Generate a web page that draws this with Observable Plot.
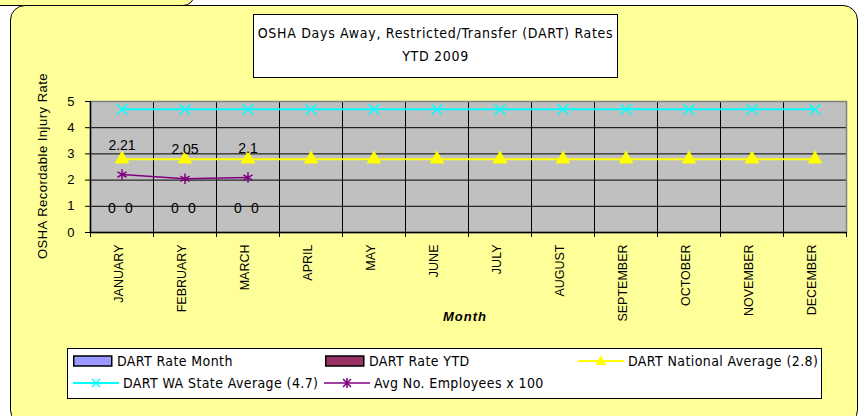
<!DOCTYPE html>
<html>
<head>
<meta charset="utf-8">
<script src="https://cdn.jsdelivr.net/npm/d3@7"></script>
<script src="https://cdn.jsdelivr.net/npm/@observablehq/plot@0.6"></script>
<style>
  body { margin: 0; background: #fff; }
  #wrap { position: relative; width: 861px; height: 416px; overflow: hidden; background: #fff; }
  .topbox { position: absolute; left: -20px; top: -30px; width: 213px; height: 34px; background: #ffff99; border: 1.5px solid #000; border-radius: 12px; }
  .mainbox { position: absolute; left: 10px; top: 5px; width: 848px; height: 420px; background: #ffff99; border: 1.5px solid #000; border-radius: 15px; box-sizing: border-box; }
  #chart { position: absolute; left: 0; top: 0; }
  .title { position: absolute; left: 253px; top: 14px; width: 365px; height: 64px; background: #fff; border: 1px solid #000; box-sizing: border-box;
           font-family: "DejaVu Sans Condensed", "DejaVu Sans", sans-serif; font-size: 14px; letter-spacing: 0.7px; text-align: center; color: #000; }
  .title div { position: absolute; left: 0; right: 0; }
  .ylabel { position: absolute; left: 42px; top: 166px; transform: translate(-50%, -50%) rotate(-90deg); white-space: nowrap;
            font-family: "Liberation Sans", Arial, sans-serif; font-size: 13px; letter-spacing: 0.5px; color: #000; }
  .xlabel { position: absolute; left: 465px; top: 316px; transform: translate(-50%, -50%); white-space: nowrap;
            font-family: "Liberation Sans", Arial, sans-serif; font-size: 13px; font-style: italic; font-weight: bold; letter-spacing: 1px; color: #000; }
  .legend { position: absolute; left: 67px; top: 348px; width: 755px; height: 51px; background: #fff; border: 1px solid #000; box-sizing: border-box;
            font-family: "DejaVu Sans Condensed", "DejaVu Sans", sans-serif; font-size: 14px; letter-spacing: 0.4px; color: #000; }
  .li { position: absolute; display: flex; align-items: center; height: 20px; white-space: nowrap; }
  .li svg { display: block; margin-right: 4px; }
</style>
</head>
<body>
<div id="wrap">
  <div class="topbox"></div>
  <div class="mainbox"></div>
  <div id="chart"></div>
  <div class="title"><div id="t1" style="top:10px"></div><div id="t2" style="top:33px"></div></div>
  <div class="ylabel" id="ylab"></div>
  <div class="xlabel" id="xlab"></div>
  <div class="legend" id="legend"></div>
</div>
<script>
// ---- data ----
const months = ["JANUARY","FEBRUARY","MARCH","APRIL","MAY","JUNE","JULY","AUGUST","SEPTEMBER","OCTOBER","NOVEMBER","DECEMBER"];
const dartRateMonth = [0, 0, 0];
const dartRateYTD = [0, 0, 0];
const nationalAvg = [2.8, 2.8, 2.8, 2.8, 2.8, 2.8, 2.8, 2.8, 2.8, 2.8, 2.8, 2.8];
const waStateAvg = [4.7, 4.7, 4.7, 4.7, 4.7, 4.7, 4.7, 4.7, 4.7, 4.7, 4.7, 4.7];
const avgEmployees = [2.21, 2.05, 2.1];
const yTicks = [0, 1, 2, 3, 4, 5];
const seriesNames = ["DART Rate Month", "DART Rate YTD", "DART National Average (2.8)", "DART WA State Average (4.7)", "Avg No. Employees x 100"];
const titleLines = ["OSHA Days Away, Restricted/Transfer (DART) Rates", "YTD 2009"];
const yLabel = "OSHA Recordable Injury Rate";
const xLabel = "Month";

// ---- layout / style ----
const W = 861, H = 416, ML = 90, MR = 15, MT = 101, MB = 184;
const BW = (W - ML - MR) / months.length;
const C = { month: "#9999ff", ytd: "#993366", nat: "#ffff00", wa: "#00ffff", emp: "#800080", plotBg: "#c0c0c0" };

const rows = (vals) => vals.map((v, i) => ({ month: months[i], value: v }));
const monthRows = rows(dartRateMonth), ytdRows = rows(dartRateYTD);
const natRows = rows(nationalAvg), waRows = rows(waStateAvg), empRows = rows(avgEmployees);

const chart = Plot.plot({
  width: W, height: H,
  marginLeft: ML, marginRight: MR, marginTop: MT, marginBottom: MB,
  style: { background: "transparent", fontFamily: "'Liberation Sans', Arial, sans-serif", color: "#000", overflow: "visible" },
  x: { type: "band", domain: months, padding: 0, axis: null },
  y: { domain: [0, 5], axis: null },
  marks: [
    Plot.frame({ fill: C.plotBg, stroke: null }),
    Plot.ruleY(yTicks.slice(1, -1), { stroke: "#000", strokeWidth: 1 }),
    Plot.ruleX(months.slice(1), { x: d => d, dx: -BW / 2, stroke: "#000", strokeWidth: 1, insetBottom: -5 }),
    Plot.frame({ stroke: "#808080", strokeWidth: 1.5 }),
    Plot.ruleX([months[0]], { x: d => d, dx: -BW / 2, stroke: "#000", strokeWidth: 1.5 }),
    Plot.ruleX([months[0]], { x: d => d, y1: 0, y2: 0, dx: -BW / 2, stroke: "#000", insetBottom: -5 }),
    Plot.ruleX([months[months.length - 1]], { x: d => d, y1: 0, y2: 0, dx: BW / 2, stroke: "#000", insetBottom: -5 }),
    Plot.ruleY([0], { stroke: "#000", strokeWidth: 1.5 }),
    Plot.axisY({ ticks: yTicks, tickSize: 5, tickPadding: 11, fontSize: 13, label: null, tickFormat: d => String(d) }),
    Plot.axisX({ tickSize: 0, tickRotate: -90, tickPadding: 12, fontSize: 12.5, label: null, dx: -3 }),
    // bars (zero height)
    Plot.barY(monthRows, { x: "month", y: "value", fill: C.month, stroke: "#000", insetLeft: BW * 0.2, insetRight: BW * 0.52 }),
    Plot.barY(ytdRows, { x: "month", y: "value", fill: C.ytd, stroke: "#000", insetLeft: BW * 0.48, insetRight: BW * 0.24 }),
    Plot.text(monthRows, { x: "month", y: "value", text: d => String(d.value), dx: -10, dy: -24, fontSize: 14 }),
    Plot.text(ytdRows, { x: "month", y: "value", text: d => String(d.value), dx: 7, dy: -24, fontSize: 14 }),
    // lines
    Plot.line(waRows, { x: "month", y: "value", stroke: C.wa, strokeWidth: 2 }),
    Plot.dot(waRows, { x: "month", y: "value", symbol: "times", stroke: C.wa, r: 5, strokeWidth: 1.5 }),
    Plot.line(natRows, { x: "month", y: "value", stroke: C.nat, strokeWidth: 2 }),
    Plot.dot(natRows, { x: "month", y: "value", symbol: "triangle", fill: C.nat, stroke: null, r: 5.5 }),
    Plot.line(empRows, { x: "month", y: "value", stroke: C.emp, strokeWidth: 1.5 }),
    Plot.dot(empRows, { x: "month", y: "value", symbol: "asterisk", stroke: C.emp, r: 5, strokeWidth: 1.5 }),
    Plot.text(empRows, { x: "month", y: "value", text: d => String(d.value), dy: -29, fontSize: 14, letterSpacing: "0.5px" })
  ]
});
document.getElementById("chart").appendChild(chart);

// title & axis labels
document.getElementById("t1").textContent = titleLines[0];
document.getElementById("t2").textContent = titleLines[1];
document.getElementById("ylab").textContent = yLabel;
document.getElementById("xlab").textContent = xLabel;

// legend
const legendSpec = [
  { name: seriesNames[0], kind: "rect", color: C.month, x: 5, row: 0 },
  { name: seriesNames[1], kind: "rect", color: C.ytd, x: 257, row: 0 },
  { name: seriesNames[2], kind: "line", color: C.nat, sym: "triangle", x: 510, row: 0 },
  { name: seriesNames[3], kind: "line", color: C.wa, sym: "times", x: 5, row: 1 },
  { name: seriesNames[4], kind: "line", color: "#a040a0", mcolor: C.emp, sym: "asterisk", x: 256, row: 1 }
];
const lg = document.getElementById("legend");
legendSpec.forEach(s => {
  const d = document.createElement("div");
  d.className = "li";
  d.style.left = s.x + "px";
  d.style.top = (s.row === 0 ? 2 : 24) + "px";
  const w = s.kind === "rect" ? 40 : 46;
  const svg = d3.create("svg").attr("width", w).attr("height", 14);
  if (s.kind === "rect") {
    svg.append("rect").attr("x", 0.75).attr("y", 2).attr("width", w - 2).attr("height", 10)
      .attr("fill", s.color).attr("stroke", "#000").attr("stroke-width", 1.5);
  } else {
    svg.append("line").attr("x1", 0).attr("x2", w).attr("y1", 7).attr("y2", 7).attr("stroke", s.color).attr("stroke-width", 2);
    const cx = w / 2, cy = 7;
    if (s.sym === "triangle") {
      svg.append("path").attr("d", `M${cx},${cy - 6}L${cx + 5.5},${cy + 4}L${cx - 5.5},${cy + 4}Z`).attr("fill", s.color);
    } else if (s.sym === "times") {
      svg.append("path").attr("d", `M${cx - 4},${cy - 4}L${cx + 4},${cy + 4}M${cx - 4},${cy + 4}L${cx + 4},${cy - 4}`).attr("stroke", s.color).attr("stroke-width", 1.5);
    } else {
      svg.append("path").attr("d", `M${cx - 4},${cy - 4}L${cx + 4},${cy + 4}M${cx - 4},${cy + 4}L${cx + 4},${cy - 4}M${cx},${cy - 5}L${cx},${cy + 5}`).attr("stroke", s.mcolor).attr("stroke-width", 1.5);
    }
  }
  d.appendChild(svg.node());
  const t = document.createElement("span");
  t.textContent = s.name;
  d.appendChild(t);
  lg.appendChild(d);
});
</script>
</body>
</html>
